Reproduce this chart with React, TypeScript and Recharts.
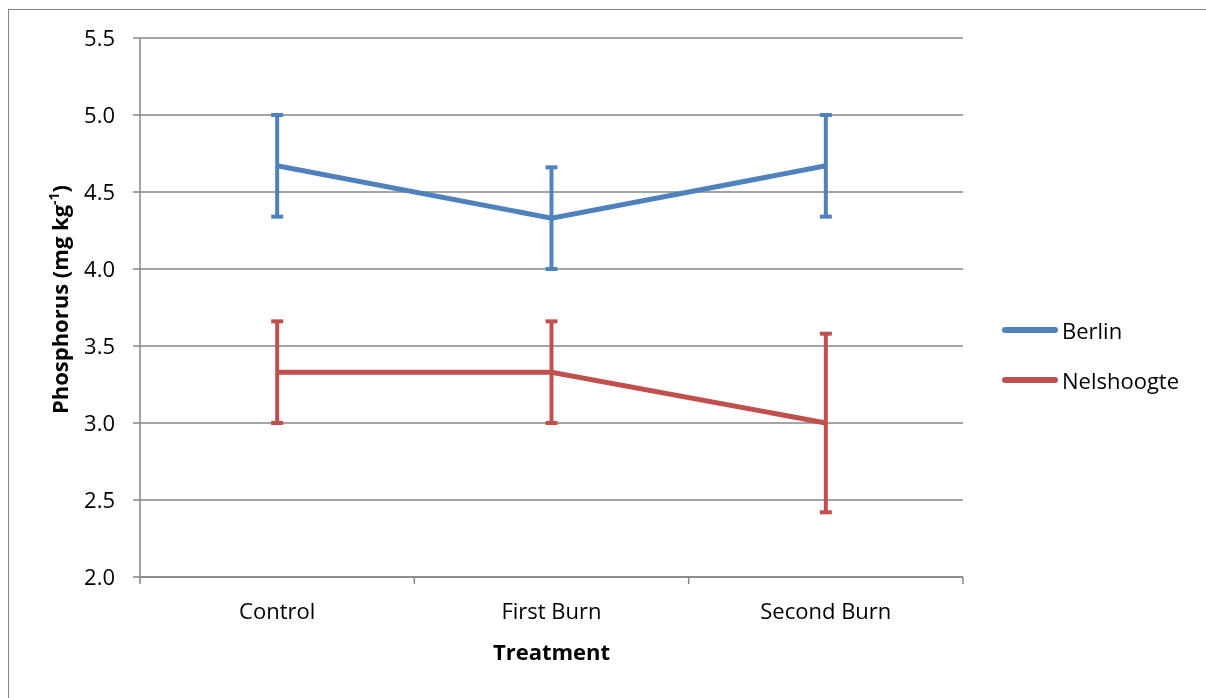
import React from 'react';
import {
  LineChart,
  Line,
  XAxis,
  YAxis,
  CartesianGrid,
  ErrorBar,
  Legend,
} from 'recharts';

// Soil phosphorus by burn treatment, two sites
const categories = ['Control', 'First Burn', 'Second Burn'];
const berlin = [4.67, 4.33, 4.67];
const berlinErr = [0.33, 0.33, 0.33];
const nelshoogte = [3.33, 3.33, 3.0];
const nelshoogteErr = [0.33, 0.33, 0.58];
const yTicks = [2.0, 2.5, 3.0, 3.5, 4.0, 4.5, 5.0, 5.5];
const xTicks = [0, 0.5, 1, 1.5, 2, 2.5, 3];

const GRAY = '#868686';
const BLUE = '#4F81BD';
const RED = '#C0504D';
const FONT = '"Open Sans", sans-serif';

const data = categories.map((name, i) => ({
  x: i + 0.5,
  name,
  berlin: berlin[i],
  berlinErr: berlinErr[i],
  nelshoogte: nelshoogte[i],
  nelshoogteErr: nelshoogteErr[i],
}));

// boundary ticks on integers, category labels on the halves
const XTick = (props: any) => {
  const { x, y, payload } = props;
  const v = payload.value;
  if (Number.isInteger(v)) {
    return <line x1={x} x2={x} y1={y - 7} y2={y} stroke={GRAY} strokeWidth={1.5} />;
  }
  return (
    <text x={x} y={y + 27} dy="0.35em" textAnchor="middle" fontFamily={FONT} fontSize={22} fill="#000">
      {categories[Math.floor(v)]}
    </text>
  );
};

const LegendContent = (props: any) => {
  const { payload } = props;
  return (
    <div style={{ fontFamily: FONT, fontSize: 22, color: '#000' }}>
      {payload.map((p: any) => (
        <div key={p.value} style={{ display: 'flex', alignItems: 'center', height: 50 }}>
          <div style={{ width: 56, height: 6, borderRadius: 3, background: p.color, marginRight: 4 }} />
          <span>{p.value}</span>
        </div>
      ))}
    </div>
  );
};

export default function App() {
  return (
    <div style={{ paddingTop: 1 }}>
      <style>{`html, body { overflow: hidden; }`}</style>
      <div
        style={{
          position: 'fixed',
          left: 8,
          top: 9,
          width: 1260,
          height: 720,
          borderLeft: `1px solid ${GRAY}`,
          borderTop: `1px solid ${GRAY}`,
        }}
      >
        <LineChart
          width={1196}
          height={680}
          data={data}
          margin={{ top: 28, right: 242, left: 0, bottom: 53 }}
        >
          <CartesianGrid vertical={false} stroke={GRAY} strokeWidth={1.5} />
          <XAxis
            dataKey="x"
            type="number"
            domain={[0, 3]}
            ticks={xTicks}
            interval={0}
            height={60}
            tickSize={7}
            tickMargin={0}
            tickLine={false}
            axisLine={{ stroke: GRAY, strokeWidth: 1.5 }}
            tick={<XTick />}
            label={{
              content: (p: any) => {
                const vb = p.viewBox;
                return (
                  <text
                    x={vb.x + vb.width / 2}
                    y={vb.y + 75}
                    dy="0.35em"
                    textAnchor="middle"
                    fontFamily={FONT}
                    fontSize={22}
                    fontWeight="bold"
                    fill="#000"
                  >
                    Treatment
                  </text>
                );
              },
            }}
          />
          <YAxis
            type="number"
            domain={[2, 5.5]}
            ticks={yTicks}
            interval={0}
            width={131}
            tickSize={7}
            tickMargin={18}
            tickLine={{ stroke: GRAY, strokeWidth: 1.5 }}
            axisLine={{ stroke: GRAY, strokeWidth: 1.5 }}
            tick={{ fill: '#000', fontSize: 22, fontFamily: FONT }}
            tickFormatter={(v: number) => v.toFixed(1)}
            label={{
              content: (p: any) => {
                const vb = p.viewBox;
                const cx = 51;
                const cy = vb.y + vb.height / 2 - 8;
                return (
                  <text
                    x={cx}
                    y={cy}
                    dy="0.35em"
                    textAnchor="middle"
                    transform={`rotate(-90, ${cx}, ${cy})`}
                    fontFamily={FONT}
                    fontSize={22}
                    fontWeight="bold"
                    fill="#000"
                  >
                    <tspan>Phosphorus (mg kg</tspan>
                    <tspan dy={-9} fontSize={14}>-1</tspan>
                    <tspan dy={9}>)</tspan>
                  </text>
                );
              },
            }}
          />
          <Legend
            layout="vertical"
            align="center"
            verticalAlign="middle"
            wrapperStyle={{ left: 993, top: 295, width: 200 }}
            content={<LegendContent />}
          />
          <Line
            type="linear"
            dataKey="berlin"
            name="Berlin"
            stroke={BLUE}
            strokeWidth={5}
            dot={false}
            activeDot={false}
            isAnimationActive={false}
          >
            <ErrorBar dataKey="berlinErr" direction="y" width={6} stroke={BLUE} strokeWidth={4} isAnimationActive={false} />
          </Line>
          <Line
            type="linear"
            dataKey="nelshoogte"
            name="Nelshoogte"
            stroke={RED}
            strokeWidth={5}
            dot={false}
            activeDot={false}
            isAnimationActive={false}
          >
            <ErrorBar dataKey="nelshoogteErr" direction="y" width={6} stroke={RED} strokeWidth={4} isAnimationActive={false} />
          </Line>
        </LineChart>
      </div>
    </div>
  );
}
